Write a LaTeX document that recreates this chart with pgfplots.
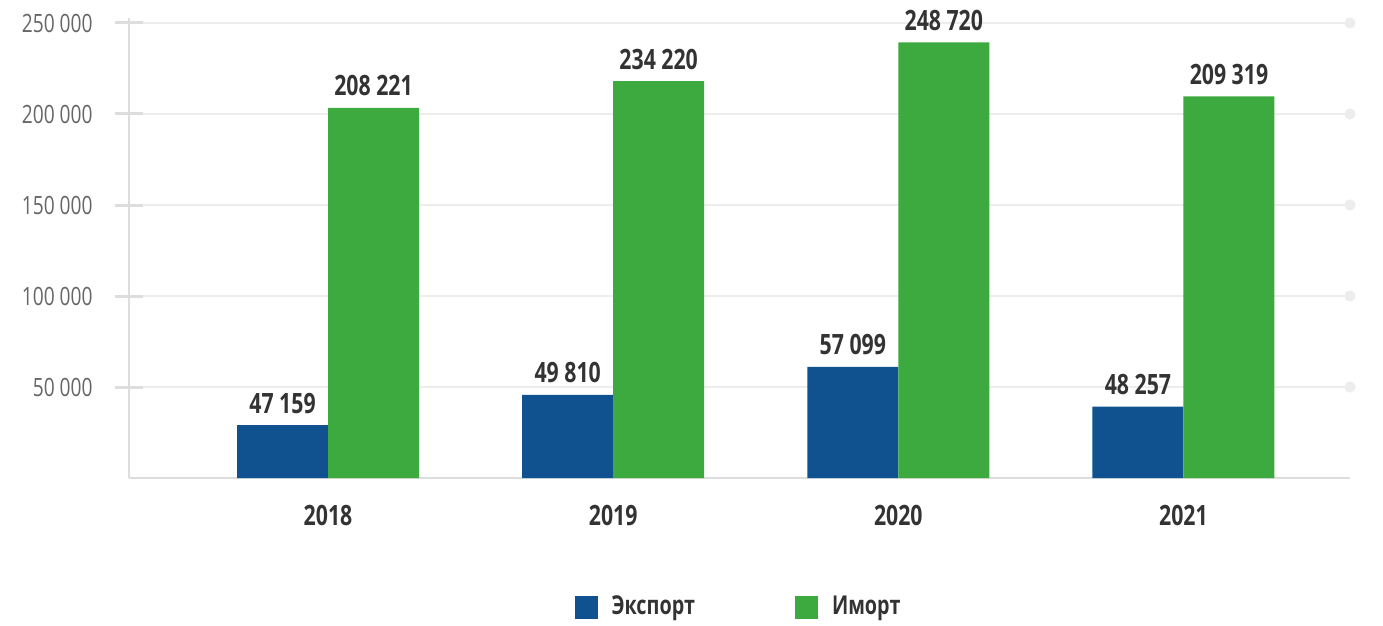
\documentclass[border=0pt]{standalone}
\usepackage{pgfplots}
\usepackage{pgfplotstable}
\pgfplotsset{compat=1.18}
\usepackage{fontspec}
\setmainfont{Open Sans}[FakeStretch=0.76]
\definecolor{cexp}{HTML}{10528F}
\definecolor{cimp}{HTML}{3CAA3F}
\definecolor{ctxt}{HTML}{333333}
\definecolor{ctick}{HTML}{666666}
\definecolor{caxis}{HTML}{DDDDDD}
\definecolor{cgrid}{HTML}{EDEDED}
\pgfplotstableread[col sep=comma]{
x,y,label
0,29000,47 159
1,45700,49 810
2,61000,57 099
3,39200,48 257
}\exportdata
\pgfplotstableread[col sep=comma]{
x,y,label
0,203300,208 221
1,218000,234 220
2,239400,248 720
3,209700,209 319
}\importdata
\pgfplotsset{
  barlbl/.style={
    nodes near coords,
    point meta=explicit symbolic,
    every node near coord/.append style={anchor=base, yshift=6pt, xshift=#1, inner sep=0pt, text=ctxt, font=\bfseries\fontsize{14}{14}\selectfont},
  },
}
\begin{document}
\begin{tikzpicture}
\begin{axis}[
  scale only axis,
  width=610.5pt, height=230pt,
  xmin=-0.698, xmax=3.584,
  ymin=0, ymax=252747,
  scaled ticks=false,
  clip=false,
  axis x line=bottom, axis y line=left,
  axis line style={caxis, line width=1pt, -},
  xtick={0,1,2,3},
  xticklabels={2018,2019,2020,2021},
  x tick style={draw=none},
  xticklabel style={anchor=center, inner sep=0pt, yshift=-11.5pt, text=ctxt, font=\bfseries\fontsize{14}{14}\selectfont},
  ytick={50000,100000,150000,200000,250000},
  yticklabels={50 000,100 000,150 000,200 000,250 000},
  yticklabel style={anchor=east, inner sep=0pt, xshift=-11pt, text=ctick, font=\fontsize{12.6}{12.6}\selectfont},
  y tick style={caxis, line width=1.5pt},
  tick align=center, major tick length=14pt,
  ymajorgrids, grid style={cgrid, line width=0.6pt},
  legend style={at={(0.5,0)}, anchor=center, yshift=-64.5pt, draw=none, fill=none,
    font=\bfseries\fontsize{13}{13}\selectfont, text=ctxt,
    legend columns=2,
    /tikz/every even column/.append style={column sep=48pt},
    /tikz/every odd column/.append style={column sep=5pt}},
  legend image code/.code={\fill[#1] (0pt,-5.75pt) rectangle (11.5pt,5.75pt);},
  legend cell align=left,
]
\addplot[ybar, bar width=45.5pt, bar shift=-22.75pt, fill=cexp, draw=none, barlbl=-22.75pt] table[x=x, y=y, meta=label] {\exportdata};
\addlegendentry{Экспорт}
\addplot[ybar, bar width=45.5pt, bar shift=22.75pt, fill=cimp, draw=none, barlbl=22.75pt] table[x=x, y=y, meta=label] {\importdata};
\addlegendentry{Иморт}
\addplot[forget plot, only marks, mark=*, mark size=2.6pt, color=cgrid] coordinates {(3.584,50000) (3.584,100000) (3.584,150000) (3.584,200000) (3.584,250000)};
\path ([xshift=-64.5pt,yshift=-71.5pt]rel axis cs:0,0) rectangle ([xshift=16.5pt,yshift=9pt]rel axis cs:1,1);
\end{axis}
\end{tikzpicture}
\end{document}
